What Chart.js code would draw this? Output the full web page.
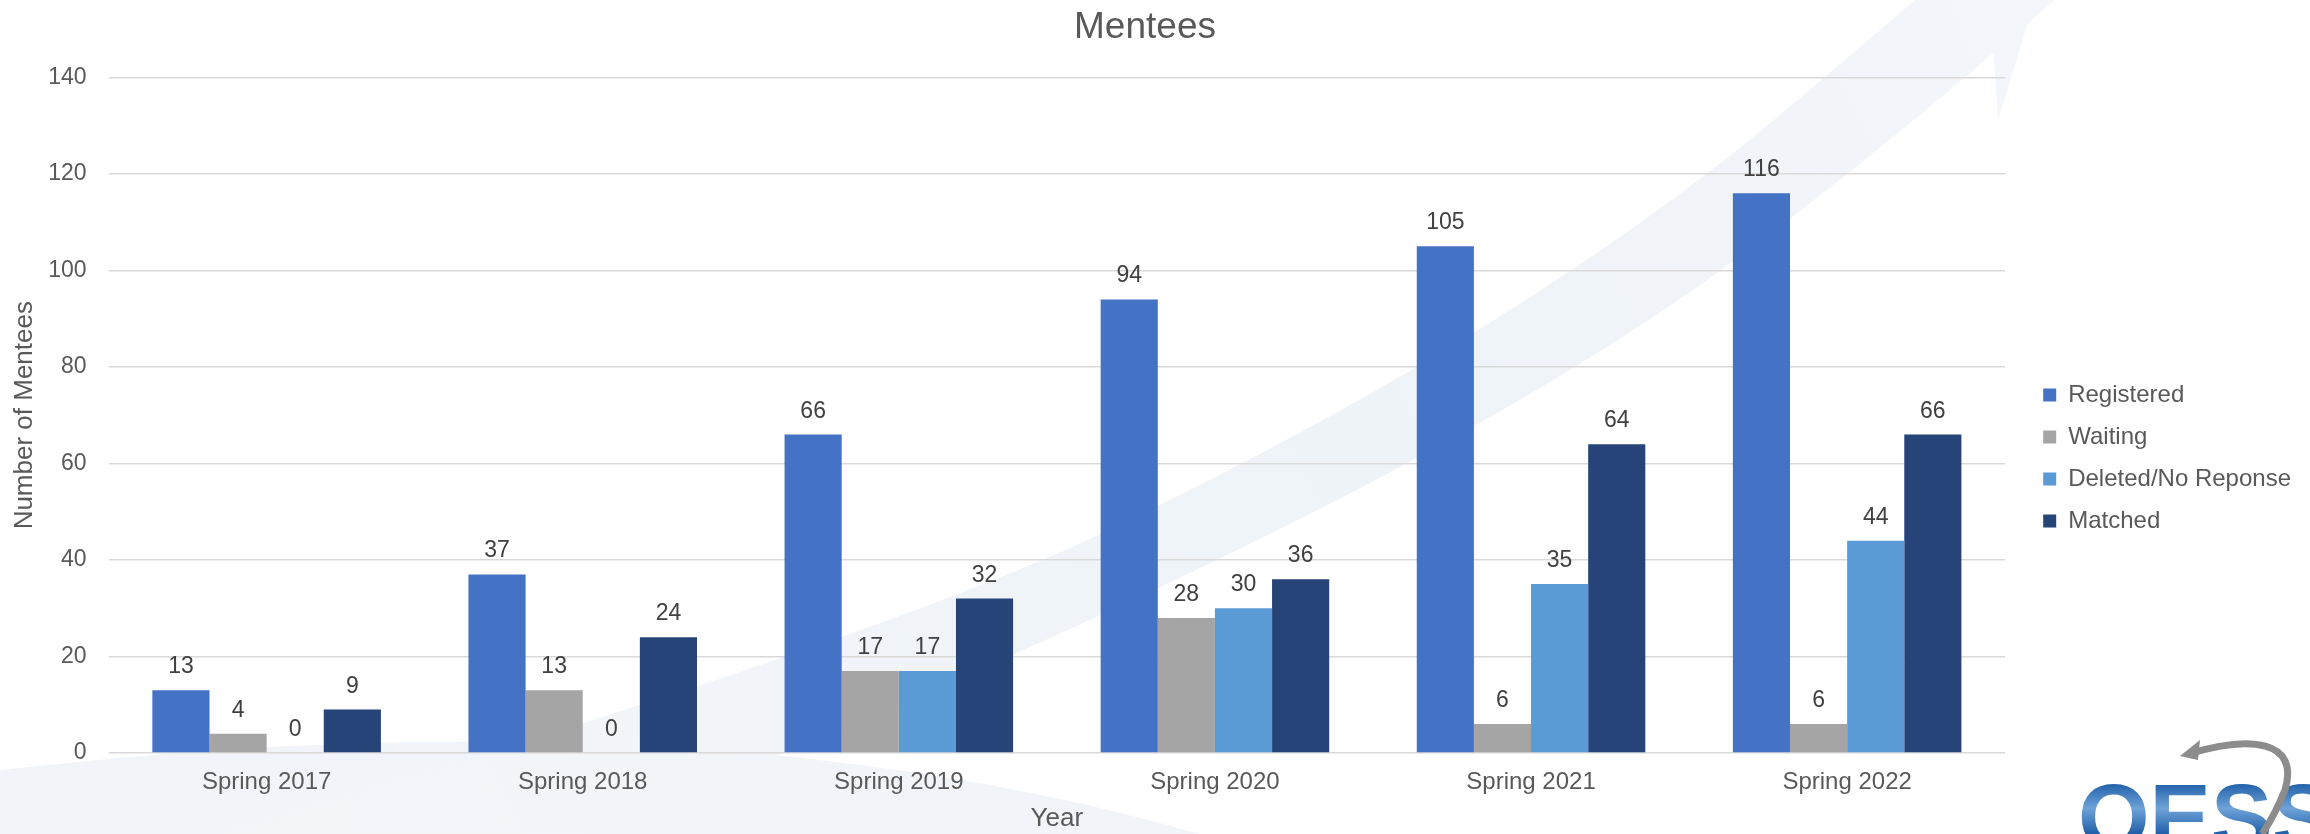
<!DOCTYPE html>
<html>
<head>
<meta charset="utf-8">
<script src="https://cdn.jsdelivr.net/npm/chart.js@4/dist/chart.umd.min.js"></script>
<style>
  html, body { margin: 0; padding: 0; background: #fff; }
  #wrap { width: 2310px; height: 834px; }
</style>
</head>
<body>
<div id="wrap"><canvas id="chart" width="2310" height="834"></canvas></div>
<script>
const years = ["Spring 2017", "Spring 2018", "Spring 2019", "Spring 2020", "Spring 2021", "Spring 2022"];
const registered = [13, 37, 66, 94, 105, 116];
const waiting = [4, 13, 17, 28, 6, 6];
const deleted = [0, 0, 17, 30, 35, 44];
const matched = [9, 24, 32, 36, 64, 66];
const yTicks = [0, 20, 40, 60, 80, 100, 120, 140];

const FONT = "'Liberation Sans', Arial, sans-serif";
const TEXT = "#595959";

// smooth path through a list of points
function smooth(ctx, pts) {
  ctx.lineTo(pts[0][0], pts[0][1]);
  for (let i = 1; i < pts.length - 1; i++) {
    const mx = (pts[i][0] + pts[i + 1][0]) / 2, my = (pts[i][1] + pts[i + 1][1]) / 2;
    ctx.quadraticCurveTo(pts[i][0], pts[i][1], mx, my);
  }
  const last = pts[pts.length - 1];
  ctx.lineTo(last[0], last[1]);
}

// faint background swoosh + bottom band
const backdrop = {
  id: "backdrop",
  beforeDraw(chart) {
    const ctx = chart.ctx;
    ctx.save();
    ctx.fillStyle = "#fff";
    ctx.fillRect(0, 0, chart.width, chart.height);
    ctx.fillStyle = "#F1F5F9";
    ctx.beginPath();
    ctx.moveTo(0, 834);
    ctx.lineTo(0, 770);
    ctx.quadraticCurveTo(700, 690, 1200, 834);
    ctx.closePath();
    ctx.fill();
    const g = ctx.createLinearGradient(300, 834, 2000, 0);
    g.addColorStop(0, "#F3F6F9");
    g.addColorStop(0.6, "#EEF3F8");
    g.addColorStop(1, "#F3F6FA");
    ctx.fillStyle = g;
    ctx.beginPath();
    ctx.moveTo(221, 834);
    smooth(ctx, [[221, 834], [884, 638], [1325, 426], [1665, 213], [1915, 0]]);
    smooth(ctx, [[2055, 0], [1811, 213], [1488, 426], [1060, 638], [589, 834]]);
    ctx.closePath();
    ctx.fill();
    ctx.beginPath();
    ctx.moveTo(1990, 0);
    ctx.lineTo(2035, 0);
    ctx.lineTo(1998, 120);
    ctx.closePath();
    ctx.fill();
    ctx.restore();
  }
};

// move the legend a bit away from the plot, centred like the original
const legendShift = {
  id: "legendShift",
  afterLayout(chart) {
    const lg = chart.legend;
    const pad = lg.options.labels.padding;
    const dx = chart.chartArea.right + 38 - (lg.left + pad);
    lg.left += dx;
    lg.right += dx;
    const h = lg.bottom - lg.top;
    lg.top = 458 - h / 2;
    lg.bottom = 458 + h / 2;
  }
};

// value labels above each bar
const valueLabels = {
  id: "valueLabels",
  afterDatasetsDraw(chart) {
    const ctx = chart.ctx;
    ctx.save();
    ctx.font = "23px " + FONT;
    ctx.fillStyle = "#404040";
    ctx.textAlign = "center";
    ctx.textBaseline = "alphabetic";
    chart.data.datasets.forEach((ds, i) => {
      chart.getDatasetMeta(i).data.forEach((bar, j) => {
        ctx.fillText(ds.data[j], bar.x, bar.y - 17);
      });
    });
    ctx.restore();
  }
};

// corner logo
const logo = {
  id: "logo",
  afterDraw(chart) {
    const ctx = chart.ctx;
    ctx.save();
    const g = ctx.createLinearGradient(0, 783, 0, 834);
    g.addColorStop(0, "#1F5FA8");
    g.addColorStop(0.5, "#6FA3D8");
    g.addColorStop(1, "#1F5FA8");
    ctx.fillStyle = g;
    ctx.font = "bold 92px " + FONT;
    ctx.textBaseline = "top";
    ctx.fillText("OESS", 2078, 778);
    ctx.strokeStyle = "#8C8C8C";
    ctx.lineWidth = 7;
    ctx.beginPath();
    ctx.moveTo(2188, 754);
    ctx.bezierCurveTo(2250, 735, 2300, 740, 2285, 790);
    ctx.quadraticCurveTo(2275, 815, 2262, 834);
    ctx.stroke();
    ctx.fillStyle = "#8C8C8C";
    ctx.beginPath();
    ctx.moveTo(2180, 756);
    ctx.lineTo(2200, 740);
    ctx.lineTo(2198, 760);
    ctx.closePath();
    ctx.fill();
    ctx.restore();
  }
};

new Chart(document.getElementById("chart"), {
  type: "bar",
  data: {
    labels: years,
    datasets: [
      { label: "Registered", data: registered, backgroundColor: "#4472C4" },
      { label: "Waiting", data: waiting, backgroundColor: "#A5A5A5" },
      { label: "Deleted/No Reponse", data: deleted, backgroundColor: "#5B9BD5" },
      { label: "Matched", data: matched, backgroundColor: "#264478" }
    ]
  },
  options: {
    responsive: false,
    animation: false,
    devicePixelRatio: 1,
    layout: { padding: { left: 9, right: 29, top: 0, bottom: 0 } },
    datasets: { bar: { categoryPercentage: 0.723, barPercentage: 1.0, borderWidth: 0 } },
    plugins: {
      title: {
        display: true,
        text: "Mentees",
        color: TEXT,
        font: { family: FONT, size: 37, weight: "normal" },
        padding: { top: 6, bottom: 27 }
      },
      legend: {
        position: "right",
        labels: {
          color: TEXT,
          font: { family: FONT, size: 24 },
          boxWidth: 13,
          boxHeight: 13,
          padding: 18
        }
      },
      tooltip: { enabled: false }
    },
    scales: {
      x: {
        grid: { display: false, drawTicks: true, tickLength: 9 },
        border: { display: false },
        ticks: { color: TEXT, font: { family: FONT, size: 24 }, padding: 6 },
        title: {
          display: true,
          text: "Year",
          color: TEXT,
          font: { family: FONT, size: 26 },
          padding: { top: 0, bottom: 0 }
        }
      },
      y: {
        min: 0,
        max: 140,
        afterBuildTicks(scale) {
          scale.ticks = yTicks.map(v => ({ value: v }));
        },
        grid: { color: "#D9D9D9", lineWidth: 1.5, drawTicks: true, tickLength: 18, tickColor: "rgba(0,0,0,0)" },
        border: { display: false },
        ticks: { color: TEXT, font: { family: FONT, size: 23 }, padding: 4 },
        title: {
          display: true,
          text: "Number of Mentees",
          color: TEXT,
          font: { family: FONT, size: 26 },
          padding: { top: 0, bottom: 4 }
        }
      }
    }
  },
  plugins: [backdrop, legendShift, valueLabels, logo]
});
</script>
</body>
</html>
